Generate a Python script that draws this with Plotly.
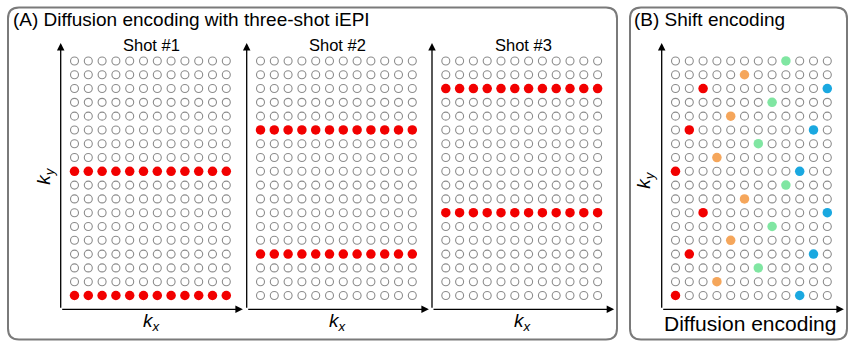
import plotly.graph_objects as go

W, H = 848, 342

# ---- data ----
kx = list(range(12))          # readout columns
ky = list(range(18))          # phase-encoding rows
shot_names = ["Shot #1", "Shot #2", "Shot #3"]
shot_rows = [[0, 9], [3, 12], [6, 15]]   # rows acquired by each shot

red_x = [0, 1, 2, 0, 1, 2];       red_y = [0, 3, 6, 9, 12, 15]
orange_x = [3, 4, 5, 3, 4, 5];    orange_y = [1, 4, 7, 10, 13, 16]
green_x = [6, 7, 8, 6, 7, 8];     green_y = [2, 5, 8, 11, 14, 17]
blue_x = [9, 10, 11, 9, 10, 11];  blue_y = [0, 3, 6, 9, 12, 15]

# ---- style ----
FONT = "Liberation Sans, Arial, sans-serif"
GRAY = "#8c8c8c"
RED = "#f20000"
ORANGE = "#f5a65b"
GREEN = "#80e6a2"
BLUE = "#1aa8e0"
FRAME = "#7a7a7a"

def px(x):
    return x / W

def py(y):
    return 1 - y / H

x_range = [-1, 12.2]
y_range = [-1, 18.3]
unit = 13.8
box_w = (x_range[1] - x_range[0]) * unit
box_top, box_bot = 43.0, 309.3
panel_left = [60.7, 246.7, 432.0, 661.7]

fig = go.Figure()
layout_axes = {}
annotations = []

def add_axes(i, left):
    xn = "xaxis" if i == 0 else f"xaxis{i+1}"
    yn = "yaxis" if i == 0 else f"yaxis{i+1}"
    xr = "x" if i == 0 else f"x{i+1}"
    yr = "y" if i == 0 else f"y{i+1}"
    common = dict(showgrid=False, zeroline=False, showticklabels=False,
                  ticks="", showline=False, fixedrange=True)
    layout_axes[xn] = dict(domain=[px(left), px(left + box_w)], range=x_range,
                           anchor=yr, **common)
    layout_axes[yn] = dict(domain=[py(box_bot), py(box_top)], range=y_range,
                           anchor=xr, **common)
    # axis arrows
    for (tx, ty) in [(x_range[1], y_range[0]), (x_range[0], y_range[1])]:
        annotations.append(dict(x=tx, y=ty, ax=x_range[0], ay=y_range[0],
                                xref=xr, yref=yr, axref=xr, ayref=yr,
                                text="", showarrow=True, arrowhead=2,
                                arrowsize=1.15, arrowwidth=1.3,
                                arrowcolor="black"))
    return xr, yr

def circles(xs, ys, xr, yr):
    fig.add_trace(go.Scatter(x=xs, y=ys, xaxis=xr, yaxis=yr, mode="markers",
                             marker=dict(symbol="circle-open", size=8,
                                         color=GRAY, line=dict(width=1.1)),
                             hoverinfo="skip", showlegend=False))

def filled(xs, ys, color, xr, yr):
    fig.add_trace(go.Scatter(x=xs, y=ys, xaxis=xr, yaxis=yr, mode="markers",
                             marker=dict(symbol="circle", size=9.5, color=color,
                                         line=dict(width=0)),
                             hoverinfo="skip", showlegend=False))

label_font = dict(family=FONT, size=19, color="black")

# ---- panel A: three shots ----
for s in range(3):
    xr, yr = add_axes(s, panel_left[s])
    gx, gy, rx, ryy = [], [], [], []
    for r in ky:
        for c in kx:
            if r in shot_rows[s]:
                rx.append(c); ryy.append(r)
            else:
                gx.append(c); gy.append(r)
    circles(gx, gy, xr, yr)
    filled(rx, ryy, RED, xr, yr)
    dom = xr + " domain"
    annotations.append(dict(text=shot_names[s], x=0.5, y=py(45), xref=dom,
                            yref="paper", showarrow=False,
                            font=dict(family=FONT, size=16.5, color="black"),
                            xanchor="center", yanchor="middle"))
    annotations.append(dict(text="<i>k<sub>x</sub></i>", x=0.5, y=py(322),
                            xref=dom, yref="paper", showarrow=False,
                            font=label_font, xanchor="center", yanchor="middle"))
    if s == 0:
        annotations.append(dict(text="<i>k<sub>y</sub></i>", x=0, xshift=-16,
                                y=py(176), xref=dom, yref="paper",
                                showarrow=False, textangle=-90,
                                font=label_font, xanchor="center",
                                yanchor="middle"))

# ---- panel B: shift encoding ----
xr, yr = add_axes(3, panel_left[3])
colored = set()
for xs, ys in [(red_x, red_y), (orange_x, orange_y), (green_x, green_y), (blue_x, blue_y)]:
    colored.update(zip(xs, ys))
gx = [c for r in ky for c in kx if (c, r) not in colored]
gy = [r for r in ky for c in kx if (c, r) not in colored]
circles(gx, gy, xr, yr)
filled(red_x, red_y, RED, xr, yr)
filled(orange_x, orange_y, ORANGE, xr, yr)
filled(green_x, green_y, GREEN, xr, yr)
filled(blue_x, blue_y, BLUE, xr, yr)
annotations.append(dict(text="<i>k<sub>y</sub></i>", x=0, xshift=-17,
                        y=py(180), xref="x4 domain", yref="paper",
                        showarrow=False, textangle=-90, font=label_font,
                        xanchor="center", yanchor="middle"))
annotations.append(dict(text="Diffusion encoding", x=px(750), y=py(323),
                        xref="paper", yref="paper", showarrow=False,
                        font=dict(family=FONT, size=21, color="black"),
                        xanchor="center", yanchor="middle"))

# ---- panel titles ----
annotations.append(dict(text="(A) Diffusion encoding with three-shot iEPI",
                        x=px(11), y=py(19.5), xref="paper", yref="paper",
                        showarrow=False, xanchor="left", yanchor="middle",
                        font=dict(family=FONT, size=19, color="black")))
annotations.append(dict(text="(B) Shift encoding",
                        x=px(632), y=py(19.5), xref="paper", yref="paper",
                        showarrow=False, xanchor="left", yanchor="middle",
                        font=dict(family=FONT, size=19, color="black")))

# ---- rounded frames ----
def rounded(x0, y0, x1, y1, r):
    X0, X1 = px(x0), px(x1)
    Y0, Y1 = py(y0), py(y1)
    rx, ry = r / W, r / H
    return (f"M {X0+rx},{Y0} L {X1-rx},{Y0} Q {X1},{Y0} {X1},{Y0-ry} "
            f"L {X1},{Y1+ry} Q {X1},{Y1} {X1-rx},{Y1} "
            f"L {X0+rx},{Y1} Q {X0},{Y1} {X0},{Y1+ry} "
            f"L {X0},{Y0-ry} Q {X0},{Y0} {X0+rx},{Y0} Z")

shapes = [
    dict(type="path", path=rounded(8, 7.5, 617, 339.5, 11), xref="paper",
         yref="paper", line=dict(color=FRAME, width=2)),
    dict(type="path", path=rounded(630, 7.5, 847, 339.5, 11), xref="paper",
         yref="paper", line=dict(color=FRAME, width=2)),
]

fig.update_layout(width=W, height=H, margin=dict(l=0, r=0, t=0, b=0),
                  paper_bgcolor="white", plot_bgcolor="white",
                  annotations=annotations, shapes=shapes, showlegend=False,
                  **layout_axes)

fig.write_html("out.html", config={"displayModeBar": False})
